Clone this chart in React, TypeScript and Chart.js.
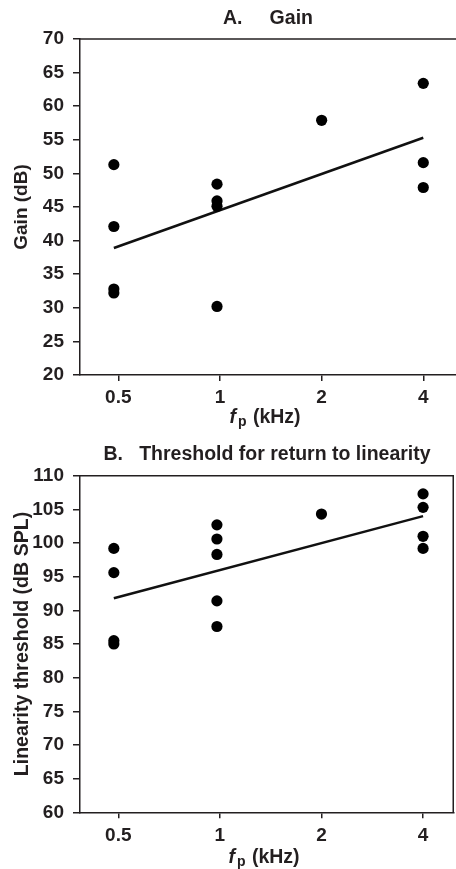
import React, { useEffect, useRef } from "react";
import { Chart, registerables } from "chart.js";

Chart.register(...registerables);

// ---- data ----
const xTickValues = [0.5, 1, 2, 4];
const xTickLabels = ["0.5", "1", "2", "4"];

const gainX = [0.485, 0.485, 0.485, 0.485, 0.98, 0.98, 0.98, 0.98, 2, 4, 4, 4];
const gainY = [51.3, 42.1, 32.8, 32.2, 48.4, 45.9, 45.1, 30.2, 57.9, 63.4, 51.6, 47.9];
const gainFitX = [0.485, 4];
const gainFitY = [38.9, 55.3];

const threshX = [0.485, 0.485, 0.485, 0.485, 0.98, 0.98, 0.98, 0.98, 0.98, 2, 4, 4, 4, 4];
const threshY = [99.2, 95.6, 85.5, 85.0, 102.7, 100.6, 98.3, 91.4, 87.6, 104.3, 107.3, 105.3, 101.0, 99.2];
const threshFitX = [0.485, 4];
const threshFitY = [91.8, 104.0];

const titleA = "A.     Gain";
const titleB = "B.   Threshold for return to linearity";
const yTitleA = "Gain (dB)";
const yTitleB = "Linearity threshold (dB SPL)";
const xTitleParts = ["f", "p", " (kHz)"];

const INK = "#231f20";
const FAMILY = "'Liberation Sans', Arial, Helvetica, sans-serif";

const framePlugin = {
  id: "frame",
  afterDraw(chart: any, _args: any, opts: any) {
    const { ctx, chartArea: a } = chart;
    ctx.save();
    ctx.strokeStyle = INK;
    ctx.lineWidth = 1.5;
    ctx.beginPath();
    ctx.moveTo(a.left, a.top);
    ctx.lineTo(a.right, a.top);
    if (opts.rightBorder) {
      ctx.moveTo(a.right - 0.75, a.top);
      ctx.lineTo(a.right - 0.75, a.bottom);
    }
    ctx.stroke();

    // x-axis title: italic f with subscript p
    const fonts = [
      `italic bold 19.5px ${FAMILY}`,
      `bold 14px ${FAMILY}`,
      `bold 19.5px ${FAMILY}`,
    ];
    const dys = [0, 3.5, 0];
    const extra = [2, 1, 0];
    let total = 0;
    const widths = xTitleParts.map((t, i) => {
      ctx.font = fonts[i];
      const w = ctx.measureText(t).width + extra[i];
      total += w;
      return w;
    });
    let x = (a.left + a.right) / 2 - total / 2 - 3;
    const y = a.bottom + opts.xTitleOffset;
    ctx.fillStyle = INK;
    ctx.textBaseline = "alphabetic";
    ctx.textAlign = "left";
    xTitleParts.forEach((t, i) => {
      ctx.font = fonts[i];
      ctx.fillText(t, x, y + dys[i]);
      x += widths[i];
    });
    ctx.restore();
  },
};

function makeConfig(p: any) {
  const pts = p.xs.map((x: number, i: number) => ({ x, y: p.ys[i] }));
  const fit = p.fx.map((x: number, i: number) => ({ x, y: p.fy[i] }));
  return {
    type: "scatter",
    data: {
      datasets: [
        {
          data: pts,
          backgroundColor: "#000",
          borderColor: "#000",
          borderWidth: 0,
          pointRadius: 5.6,
          pointHoverRadius: 5.6,
          showLine: false,
        },
        {
          data: fit,
          borderColor: "#111",
          borderWidth: 2.5,
          pointRadius: 0,
          showLine: true,
          fill: false,
        },
      ],
    },
    plugins: [framePlugin],
    options: {
      responsive: false,
      animation: false,
      events: [],
      layout: { autoPadding: false, padding: { left: 0, right: p.padRight, top: 0, bottom: 0 } },
      plugins: {
        legend: { display: false },
        tooltip: { enabled: false },
        title: {
          display: true,
          text: p.title,
          color: INK,
          fullSize: false,
          font: { family: FAMILY, size: 19.5, weight: "bold" },
          padding: { top: p.titlePadTop, bottom: p.titlePadBottom },
        },
        frame: { rightBorder: p.rightBorder, xTitleOffset: p.xTitleOffset },
      },
      scales: {
        x: {
          type: "logarithmic",
          min: 0.385,
          max: p.xMax,
          afterFit: (s: any) => {
            s.height = p.xHeight;
          },
          afterBuildTicks: (s: any) => {
            s.ticks = xTickValues.map((v) => ({ value: v }));
          },
          ticks: {
            autoSkip: false,
            maxRotation: 0,
            padding: 5.6,
            color: INK,
            font: { family: FAMILY, size: 19, weight: "bold" },
            callback: (v: number) => {
              const i = xTickValues.indexOf(v);
              return i >= 0 ? xTickLabels[i] : "";
            },
          },
          grid: {
            display: true,
            drawOnChartArea: false,
            drawTicks: true,
            tickLength: 6,
            color: INK,
            lineWidth: 1.5,
          },
          border: { display: true, color: INK, width: 1.5 },
        },
        y: {
          type: "linear",
          min: p.yMin,
          max: p.yMax,
          afterFit: (s: any) => {
            s.width = 80;
          },
          ticks: {
            stepSize: 5,
            autoSkip: false,
            padding: 9,
            color: INK,
            font: { family: FAMILY, size: 19, weight: "bold" },
          },
          grid: {
            display: true,
            drawOnChartArea: false,
            drawTicks: true,
            tickLength: 7,
            color: INK,
            lineWidth: 1.5,
          },
          border: { display: true, color: INK, width: 1.5 },
          title: {
            display: true,
            text: p.yTitle,
            color: INK,
            font: { family: FAMILY, size: p.yTitleSize, weight: "bold" },
            padding: { top: 10.4, bottom: 0 },
          },
        },
      },
    },
  };
}

function Panel(props: any) {
  const ref = useRef<HTMLCanvasElement | null>(null);
  useEffect(() => {
    if (!ref.current) return;
    const chart = new Chart(ref.current, makeConfig(props.cfg) as any);
    return () => chart.destroy();
  }, []);
  return (
    <canvas
      ref={ref}
      width={456}
      height={props.height}
      style={{ display: "block", width: 456, height: props.height }}
    />
  );
}

export default function App() {
  const top = {
    xs: gainX,
    ys: gainY,
    fx: gainFitX,
    fy: gainFitY,
    title: titleA,
    yTitle: yTitleA,
    yTitleSize: 19,
    yMin: 20,
    yMax: 70,
    xMax: 5.0,
    padRight: 0,
    rightBorder: false,
    titlePadTop: 7.3,
    titlePadBottom: 8.3,
    xHeight: 59,
    xTitleOffset: 47.7,
  };
  const bottom = {
    xs: threshX,
    ys: threshY,
    fx: threshFitX,
    fy: threshFitY,
    title: titleB,
    yTitle: yTitleB,
    yTitleSize: 19.6,
    yMin: 60,
    yMax: 110,
    xMax: 4.94,
    padRight: 2,
    rightBorder: true,
    titlePadTop: 9.3,
    titlePadBottom: 9,
    xHeight: 56.7,
    xTitleOffset: 50.4,
  };
  return (
    <div style={{ position: "absolute", left: 0, top: 0, width: 456, background: "#fff" }}>
      <Panel cfg={top} height={434} />
      <Panel cfg={bottom} height={435} />
    </div>
  );
}
